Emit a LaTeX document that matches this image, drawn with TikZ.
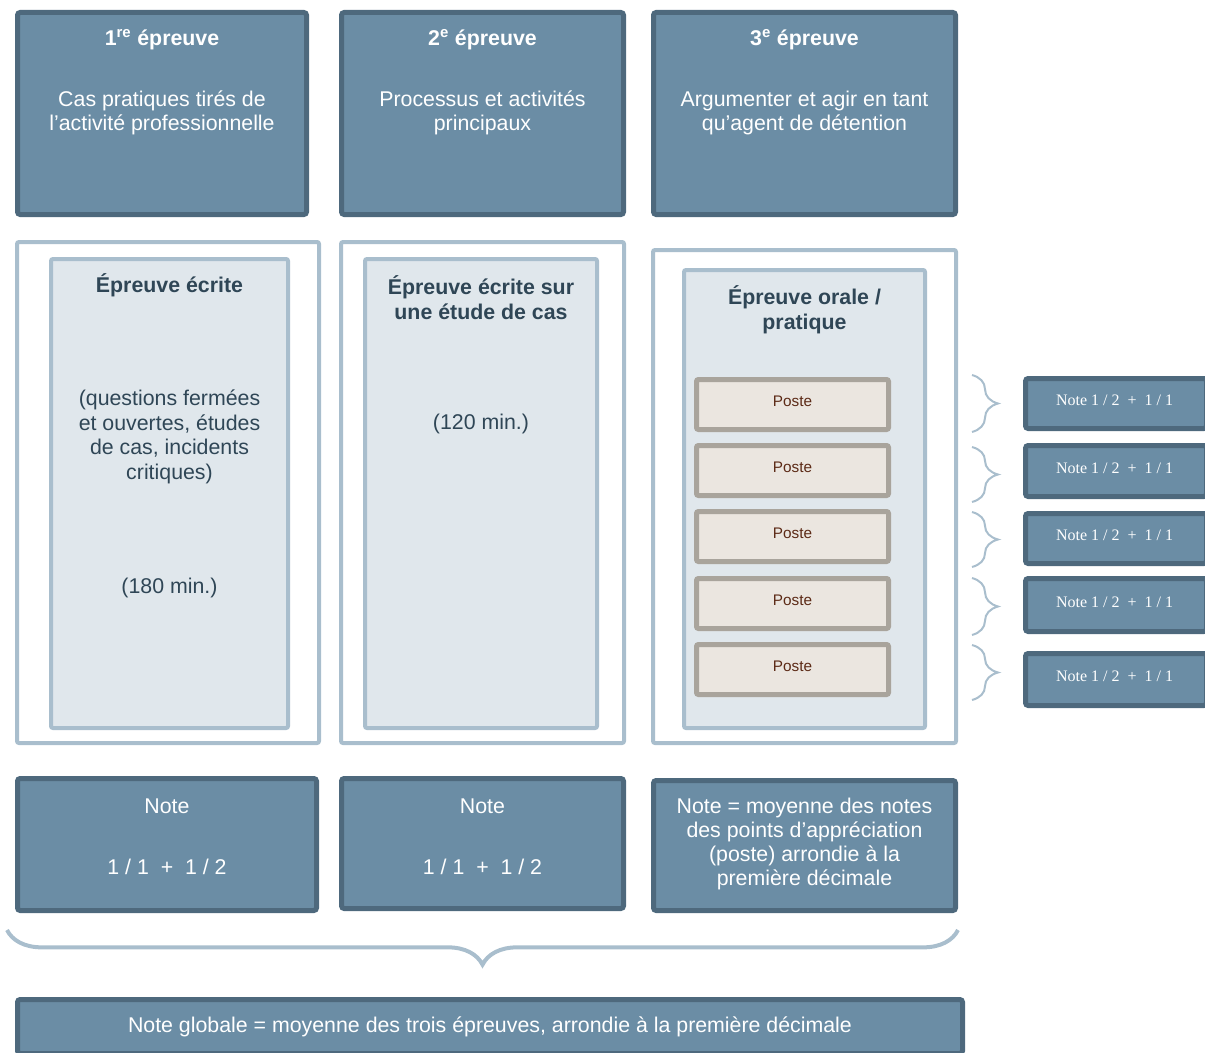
\documentclass[tikz,border=0pt]{standalone}
\usepackage{fontspec}
\setmainfont{Liberation Sans}
\newfontfamily\notefont{Liberation Serif}
\usetikzlibrary{positioning, calc, decorations.pathreplacing}

\definecolor{epfill}{HTML}{6B8DA5}
\definecolor{epdark}{HTML}{4E697D}
\definecolor{eplight}{HTML}{A9BECD}
\definecolor{epinner}{HTML}{E0E7EC}
\definecolor{eptext}{HTML}{2F4656}
\definecolor{postefill}{HTML}{EBE6E0}
\definecolor{posteline}{HTML}{A9A49C}
\definecolor{postetext}{HTML}{5C2A16}

\begin{document}
\begin{tikzpicture}[
  x=0.75pt, y=-0.75pt,
  dims/.style 2 args={minimum width=#1*0.75pt, minimum height=#2*0.75pt},
  darkbox/.style={draw=epdark, fill=epfill, line width=3.75pt, rounded corners=2pt, inner sep=0pt},
  outerbox/.style={draw=eplight, fill=white, line width=3pt, rounded corners=1.5pt, inner sep=0pt},
  innerbox/.style={draw=eplight, fill=epinner, line width=3pt, rounded corners=1.5pt, inner sep=0pt},
  postebox/.style={draw=posteline, fill=postefill, line width=3.75pt, rounded corners=1.5pt, dims={192}{50}},
  postetxt/.style={text=postetext, inner sep=0pt, font=\fontsize{11.5}{13}\selectfont},
  notetxt/.style={text=white, inner sep=0pt, font=\notefont\fontsize{12}{14}\selectfont},
  lblplain/.style={text=white, align=center, font=\fontsize{16}{18}\selectfont, inner sep=0pt},
  lbl/.style={lblplain, yshift=-2.2pt},
  lblbold/.style={lbl, font=\bfseries\fontsize{16}{18}\selectfont},
  ttl/.style={text=eptext, align=center, font=\bfseries\fontsize{16}{18.5}\selectfont, inner sep=0pt, yshift=-1.5pt},
  txt/.style={text=eptext, align=center, font=\fontsize{16}{18.5}\selectfont, inner sep=0pt, yshift=-2.2pt},
  brace/.style={draw=eplight, line width=1.5pt, decorate, decoration={brace, amplitude=19.5pt}},
  bigbrace/.style={draw=eplight, line width=3pt, decorate, decoration={brace, amplitude=26pt}}
]
\useasboundingbox (0,0) rectangle (1205,1052);
\clip (0,0) rectangle (1205,1052);

% top row
\node[darkbox, dims={289}{202}] (ep1) at (162,113.5) {};
\node[darkbox, dims={282}{202}] (ep2) at (482.5,113.5) {};
\node[darkbox, dims={302}{202}] (ep3) at (804.5,113.5) {};
\node[lblbold] (ep1title) at (162,37) {1\textsuperscript{re} épreuve};
\node[lblbold] (ep2title) at (482.5,37) {2\textsuperscript{e} épreuve};
\node[lblbold] (ep3title) at (804.5,37) {3\textsuperscript{e} épreuve};
\node[lbl] (ep1text) at (162,110) {Cas pratiques tirés de\\l’activité professionnelle};
\node[lbl] (ep2text) at (482.5,110) {Processus et activités\\principaux};
\node[lbl] (ep3text) at (804.5,110) {Argumenter et agir en tant\\qu’agent de détention};

% middle row
\node[outerbox, dims={302}{501}] (ec1) at (168,492.5) {};
\node[outerbox, dims={283}{501}] (ec2) at (482.5,492.5) {};
\node[outerbox, dims={303}{493}] (ec3) at (804.5,496.5) {};
\node[innerbox, dims={237}{469}] (in1) at (169.5,493.5) {};
\node[innerbox, dims={232}{469}] (in2) at (481,493.5) {};
\node[innerbox, dims={241}{458}] (in3) at (804.5,499) {};
\node[ttl] (in1title) at (169.5,283) {Épreuve écrite};
\node[ttl] (in2title) at (481,295.5) {Épreuve écrite sur\\une étude de cas};
\node[ttl] (in3title) at (804.5,307.5) {Épreuve orale /\\pratique};
\node[txt] (in1text) at (169.5,434) {(questions fermées\\et ouvertes, études\\de cas, incidents\\critiques)};
\node[txt] (in1time) at (169.5,585) {(180 min.)};
\node[txt] (in2time) at (481,421) {(120 min.)};

% postes and their notes
\foreach \i/\y in {1/404.5, 2/470.5, 3/536.5, 4/603.5, 5/669.5} {
  \node[postebox] (poste\i) at (792.5,\y) {};
  \node[postetxt] (poste\i txt) at ($(poste\i)+(0,-3.5)$) {Poste};
}
\foreach \i/\y/\h in {1/403.5/50, 2/471/51, 3/538.5/50, 4/605/53, 5/679.5/52} {
  \node[darkbox, dims={181}{\h}] (pnote\i) at (1116,\y) {};
  \node[notetxt] (pnote\i txt) at ($(pnote\i)+(-1.5,-3)$) {Note 1 / 2 \ + \ 1 / 1};
}
\foreach \a/\b in {375/432, 447/502, 512/567, 578/635, 645/700}
  \draw[brace] (972,\a) -- (972,\b);

% bottom row
\node[darkbox, dims={299}{132}] (note1) at (167,844.5) {};
\node[darkbox, dims={282}{130}] (note2) at (482.5,843.5) {};
\node[darkbox, dims={302}{130}] (note3) at (804.5,845.5) {};
\node[lbl] (note1a) at (167,803) {Note};
\node[lbl] (note1b) at (167,864) {1 / 1 \ + \ 1 / 2};
\node[lbl] (note2a) at (482.5,803) {Note};
\node[lbl] (note2b) at (482.5,864) {1 / 1 \ + \ 1 / 2};
\node[lbl] (note3text) at (804.5,841.5) {Note = moyenne des notes\\des points d’appréciation\\(poste) arrondie à la\\première décimale};

\draw[bigbrace] (958,930) -- (7,930);

\node[darkbox, dims={945}{54}, lblplain] (global) at (490,1026.5) {Note globale = moyenne des trois épreuves, arrondie à la première décimale};
\end{tikzpicture}
\end{document}
